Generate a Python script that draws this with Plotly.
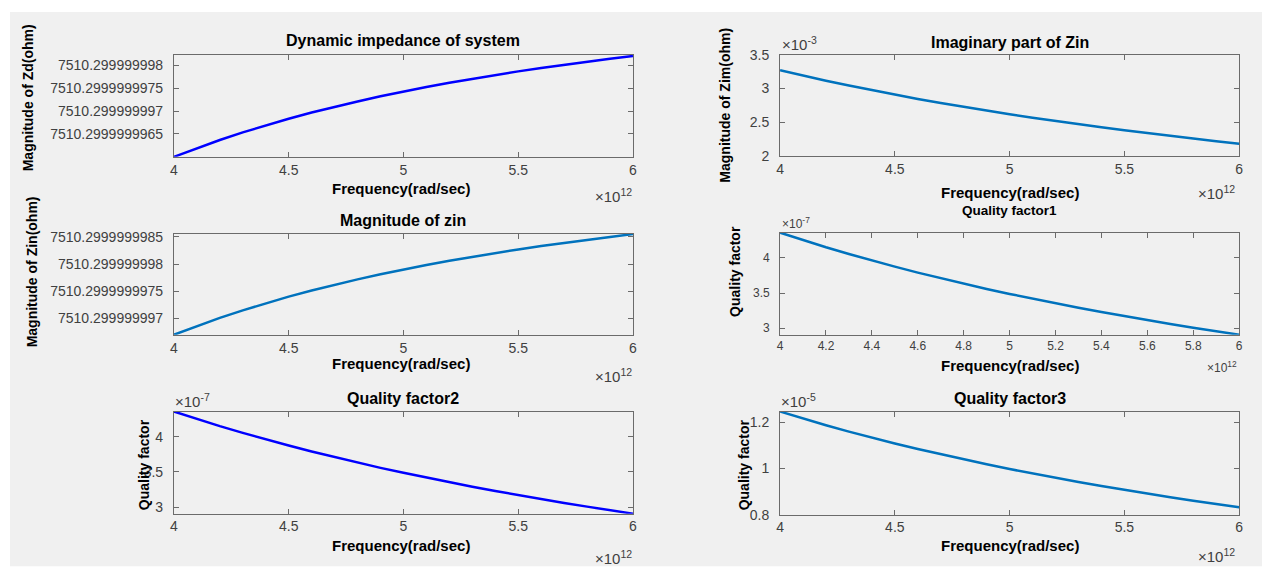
import plotly.graph_objects as go

# Angular frequency sweep (rad/s)
freq = [4.0e12, 4.1e12, 4.2e12, 4.3e12, 4.4e12, 4.5e12, 4.6e12, 4.7e12, 4.8e12, 4.9e12,
        5.0e12, 5.1e12, 5.2e12, 5.3e12, 5.4e12, 5.5e12, 5.6e12, 5.7e12, 5.8e12, 5.9e12, 6.0e12]

# |Zd| (ohm)
zd_mag = [7510.299999996000, 7510.299999996191, 7510.299999996368, 7510.299999996533,
          7510.299999996687, 7510.299999996831, 7510.299999996966, 7510.299999997092,
          7510.299999997210, 7510.299999997321, 7510.299999997426, 7510.299999997524,
          7510.299999997617, 7510.299999997705, 7510.299999997787, 7510.299999997866,
          7510.299999997940, 7510.299999998010, 7510.299999998077, 7510.299999998140,
          7510.299999998200]

# Im(Zin) (ohm)
zin_imag = [3.270e-3, 3.190e-3, 3.114e-3, 3.042e-3, 2.973e-3, 2.907e-3, 2.843e-3,
            2.783e-3, 2.725e-3, 2.669e-3, 2.616e-3, 2.565e-3, 2.515e-3, 2.468e-3,
            2.422e-3, 2.378e-3, 2.336e-3, 2.295e-3, 2.255e-3, 2.217e-3, 2.180e-3]

# |Zin| (ohm)
zin_mag = [7510.299999996700, 7510.299999996860, 7510.299999997010, 7510.299999997148,
           7510.299999997278, 7510.299999997399, 7510.299999997512, 7510.299999997618,
           7510.299999997718, 7510.299999997811, 7510.299999997899, 7510.299999997982,
           7510.299999998060, 7510.299999998133, 7510.299999998203, 7510.299999998269,
           7510.299999998331, 7510.299999998390, 7510.299999998446, 7510.299999998499,
           7510.299999998550]

# Quality factors
q1 = [4.360e-7, 4.254e-7, 4.152e-7, 4.056e-7, 3.964e-7, 3.876e-7, 3.791e-7, 3.711e-7,
      3.633e-7, 3.559e-7, 3.488e-7, 3.420e-7, 3.354e-7, 3.291e-7, 3.230e-7, 3.171e-7,
      3.114e-7, 3.060e-7, 3.007e-7, 2.956e-7, 2.907e-7]
q2 = list(q1)
q3 = [1.2475e-5, 1.2171e-5, 1.1881e-5, 1.1605e-5, 1.1341e-5, 1.1089e-5, 1.0848e-5,
      1.0617e-5, 1.0396e-5, 1.0184e-5, 0.9980e-5, 0.9784e-5, 0.9596e-5, 0.9415e-5,
      0.9241e-5, 0.9073e-5, 0.8911e-5, 0.8754e-5, 0.8603e-5, 0.8458e-5, 0.8317e-5]

# Tick definitions
x_ticks = [4.0e12, 4.5e12, 5.0e12, 5.5e12, 6.0e12]
x_ticktext = ["4", "4.5", "5", "5.5", "6"]
x_ticks_fine = [4.0e12, 4.2e12, 4.4e12, 4.6e12, 4.8e12, 5.0e12, 5.2e12, 5.4e12, 5.6e12, 5.8e12, 6.0e12]
x_ticktext_fine = ["4", "4.2", "4.4", "4.6", "4.8", "5", "5.2", "5.4", "5.6", "5.8", "6"]

zd_ticks = [7510.2999999965, 7510.299999997, 7510.2999999975, 7510.299999998]
zd_ticktext = ["7510.2999999965", "7510.299999997", "7510.2999999975", "7510.299999998"]
zin_ticks = [7510.299999997, 7510.2999999975, 7510.299999998, 7510.2999999985]
zin_ticktext = ["7510.299999997", "7510.2999999975", "7510.299999998", "7510.2999999985"]
zim_ticks = [2.0e-3, 2.5e-3, 3.0e-3, 3.5e-3]
zim_ticktext = ["2", "2.5", "3", "3.5"]
q_ticks = [3.0e-7, 3.5e-7, 4.0e-7]
q_ticktext = ["3", "3.5", "4"]
q3_ticks = [0.8e-5, 1.0e-5, 1.2e-5]
q3_ticktext = ["0.8", "1", "1.2"]

W, H = 1266, 580
BG = "#f0f0f0"
AX_COL = "#6b6b6b"
TXT_COL = "#404040"
MATLAB_BLUE = "#0072BD"
PURE_BLUE = "#0000FF"
FONT = "Liberation Sans, Arial, sans-serif"


def px_x(v):
    return v / W


def px_y(v):
    return 1 - v / H


# panel boxes in pixels: left, right, top, bottom
boxes = {
    1: (171, 633, 48, 153),
    2: (781, 1243, 48, 152),
    3: (171, 633, 232, 336),
    4: (781, 1243, 231, 336),
    5: (171, 633, 415, 520),
    6: (781, 1243, 415, 521),
}

panels = [
    # id, y data, colour, y range, y ticks, y text, x ticks, x text, tick font size
    (1, zd_mag, PURE_BLUE, [7510.299999996000, 7510.299999998230], zd_ticks, zd_ticktext, x_ticks, x_ticktext, 14),
    (2, zin_imag, MATLAB_BLUE, [2.0e-3, 3.5e-3], zim_ticks, zim_ticktext, x_ticks, x_ticktext, 14),
    (3, zin_mag, MATLAB_BLUE, [7510.299999996700, 7510.299999998560], zin_ticks, zin_ticktext, x_ticks, x_ticktext, 14),
    (4, q1, MATLAB_BLUE, [2.907e-7, 4.360e-7], q_ticks, q_ticktext, x_ticks_fine, x_ticktext_fine, 12),
    (5, q2, PURE_BLUE, [2.907e-7, 4.360e-7], q_ticks, q_ticktext, x_ticks, x_ticktext, 14),
    (6, q3, MATLAB_BLUE, [0.8e-5, 1.2475e-5], q3_ticks, q3_ticktext, x_ticks, x_ticktext, 14),
]

fig = go.Figure()
layout = {}
for pid, ydata, col, yr, yt, ytt, xt, xtt, fs in panels:
    sfx = "" if pid == 1 else str(pid)
    fig.add_trace(go.Scatter(
        x=freq, y=ydata, mode="lines",
        line=dict(color=col, width=2.5),
        xaxis="x" + sfx, yaxis="y" + sfx, showlegend=False, hoverinfo="skip",
    ))
    l, r, t, b = boxes[pid]
    common = dict(
        showline=True, linecolor=AX_COL, linewidth=1, mirror="ticks",
        ticks="inside", ticklen=5, tickcolor=AX_COL, tickwidth=1,
        showgrid=False, zeroline=False, tickmode="array",
        tickfont=dict(family=FONT, size=fs, color=TXT_COL),
    )
    layout["xaxis" + sfx] = dict(
        common, domain=[px_x(l), px_x(r)], anchor="y" + sfx,
        range=[4.0e12, 6.0e12], tickvals=xt, ticktext=xtt,
    )
    layout["yaxis" + sfx] = dict(
        common, domain=[px_y(b), px_y(t)], anchor="x" + sfx,
        range=yr, tickvals=yt, ticktext=ytt, ticklabelstandoff=7,
    )

fig.update_layout(**layout)

ann = []


def text(x, y, s, size=14, bold=False, angle=0, color="#000000", xanchor="center"):
    ann.append(dict(
        x=px_x(x), y=px_y(y), xref="paper", yref="paper", text=("<b>%s</b>" % s) if bold else s,
        showarrow=False, textangle=angle, xanchor=xanchor, yanchor="middle",
        font=dict(family=FONT, size=size, color=color),
    ))


# panel titles
text(402, 33, "Dynamic impedance of system", 16, True)
text(1012, 35, "Imaginary part of Zin", 16, True)
text(402, 219, "Magnitude of zin", 16, True)
text(1012, 208, "Quality factor1", 13.5, True)
text(402, 402, "Quality factor2", 16, True)
text(1012, 402, "Quality factor3", 16, True)

# x-axis titles
for cx, cy in [(400, 186), (1012, 190), (400, 366), (1012, 368), (400, 553), (1012, 553)]:
    text(cx, cy, "Frequency(rad/sec)", 15, True)

# y-axis titles
text(25, 92, "Magnitude of Zd(ohm)", 14, True, -90)
text(726, 100, "Magnitude of Zim(ohm)", 14, True, -90)
text(28, 271, "Magnitude of Zin(ohm)", 14, True, -90)
text(735, 271, "Quality factor", 14, True, -90)
text(141, 470, "Quality factor", 14, True, -90)
text(745, 470, "Quality factor", 14, True, -90)

# axis exponent labels
for cx, cy, sz in [(613, 193, 15), (1220, 190, 15), (613, 378, 15), (1226, 369, 12), (613, 565, 15), (1220, 563, 15)]:
    text(cx, cy, "\u00d710<sup>12</sup>", sz, color=TXT_COL)
text(781, 37, "\u00d710<sup>-3</sup>", 15, color=TXT_COL, xanchor="left")
text(781, 221, "\u00d710<sup>-7</sup>", 12, color=TXT_COL, xanchor="left")
text(170, 404, "\u00d710<sup>-7</sup>", 15, color=TXT_COL, xanchor="left")
text(780, 404, "\u00d710<sup>-5</sup>", 15, color=TXT_COL, xanchor="left")

fig.update_layout(
    width=W, height=H, margin=dict(l=0, r=0, t=0, b=0),
    paper_bgcolor="#ffffff", plot_bgcolor="#ffffff",
    annotations=ann,
    shapes=[dict(type="rect", xref="paper", yref="paper", layer="below",
                 x0=px_x(6), x1=1, y0=px_y(574), y1=px_y(4),
                 fillcolor=BG, line=dict(width=0))],
)

# place the figure flush with the page corner
fig.write_html(
    "out.html",
    post_script="document.body.style.margin='0';document.body.style.overflow='hidden';",
)
